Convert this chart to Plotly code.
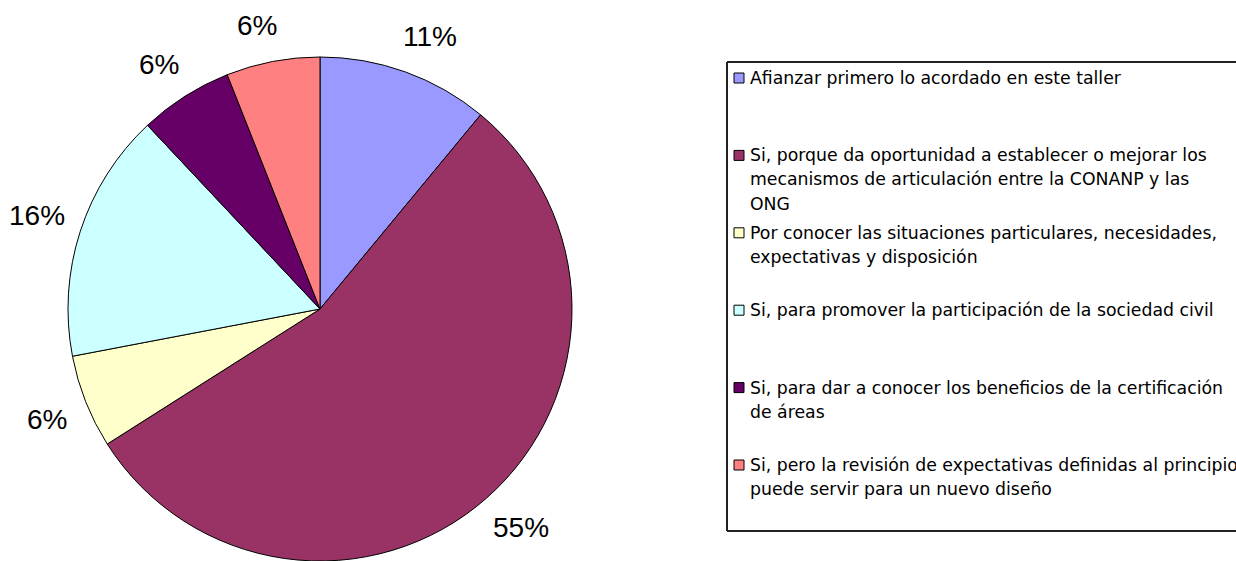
import math
import plotly.graph_objects as go

categories = [
    "Afianzar primero lo acordado en este taller",
    "Si, porque da oportunidad a establecer o mejorar los<br>mecanismos de articulación entre la CONANP y las<br>ONG",
    "Por conocer las situaciones particulares, necesidades,<br>expectativas y disposición",
    "Si, para promover la participación de la sociedad civil",
    "Si, para dar a conocer los beneficios de la certificación<br>de áreas",
    "Si, pero la revisión de expectativas definidas al principio<br>puede servir para un nuevo diseño",
]
values = [11, 55, 6, 16, 6, 6]
colors = ["#9999FF", "#993366", "#FFFFCC", "#CCFFFF", "#660066", "#FF8080"]

W, H = 1236, 561
CX, CY = 320, 309          # pie center in pixels (from top-left)
R = 252                    # pie radius in pixels
LABEL_SIZE = 28


def px_x(x):
    return x / W


def px_y(y):
    return 1 - y / H


fig = go.Figure()
fig.add_trace(go.Pie(
    labels=[c.replace("<br>", " ") for c in categories],
    values=values,
    sort=False,
    direction="clockwise",
    rotation=0,
    marker=dict(colors=colors, line=dict(color="black", width=1)),
    textinfo="none",
    hoverinfo="label+percent",
    domain=dict(x=[px_x(CX - R), px_x(CX + R)], y=[px_y(CY + R), px_y(CY - R)]),
    showlegend=False,
))

# percentage labels outside slices (placed like spreadsheet "outside end" labels)
total = sum(values)
cum = 0
annotations = []
for v in values:
    mid = (cum + v / 2) / total * 2 * math.pi
    cum += v
    s, c = math.sin(mid), -math.cos(mid)
    txt = f"{round(v / total * 100)}%"
    hw = (0.556 * (len(txt) - 1) + 0.889) * LABEL_SIZE / 2
    hh = LABEL_SIZE * 0.45
    # model A: label centre on the ray
    ax, ay = CX + 1.17 * R * s, CY + 1.17 * R * c
    # model B: nearest corner of the label box on the ray
    t = R + 18
    bx = CX + t * s + math.copysign(hw, s)
    by = CY + t * c + math.copysign(hh, c)
    annotations.append(dict(
        x=px_x((ax + bx) / 2), y=px_y((ay + by) / 2),
        xref="paper", yref="paper",
        text=txt, showarrow=False,
        font=dict(family="Liberation Sans, Arial", size=LABEL_SIZE, color="black"),
        xanchor="center", yanchor="middle",
    ))

# legend (boxed, entries at a fixed pitch, clipped at the right edge as in the source)
LEG_X, LEG_TOP, LEG_BOTTOM = 727, 62, 531
FIRST_ROW, PITCH = 78, 77.4
TEXT_SIZE = 17.3
border = dict(color="#222222", width=2)
shapes = [
    dict(type="line", xref="paper", yref="paper", x0=px_x(LEG_X), x1=1,
         y0=px_y(LEG_TOP), y1=px_y(LEG_TOP), line=border),
    dict(type="line", xref="paper", yref="paper", x0=px_x(LEG_X), x1=1,
         y0=px_y(LEG_BOTTOM), y1=px_y(LEG_BOTTOM), line=border),
    dict(type="line", xref="paper", yref="paper", x0=px_x(LEG_X), x1=px_x(LEG_X),
         y0=px_y(LEG_BOTTOM), y1=px_y(LEG_TOP), line=border),
]
for i, (cat, col) in enumerate(zip(categories, colors)):
    yc = FIRST_ROW + i * PITCH
    shapes.append(dict(type="rect", xref="paper", yref="paper",
                       x0=px_x(LEG_X + 7), x1=px_x(LEG_X + 17),
                       y0=px_y(yc + 5), y1=px_y(yc - 5),
                       line=dict(color="black", width=1), fillcolor=col))
    text = "<br>".join(f'<span style="font-size:{TEXT_SIZE}px">{ln}</span>'
                       for ln in cat.split("<br>"))
    annotations.append(dict(
        x=px_x(LEG_X + 21), y=px_y(yc - 12), xref="paper", yref="paper",
        text=text, showarrow=False, align="left",
        xanchor="left", yanchor="top",
        font=dict(family="DejaVu Sans, Liberation Sans, Arial", size=18.7, color="black"),
    ))

fig.update_layout(
    width=W, height=H,
    margin=dict(l=0, r=0, t=0, b=0),
    paper_bgcolor="white",
    plot_bgcolor="white",
    showlegend=False,
    annotations=annotations,
    shapes=shapes,
)

fig.write_html(
    "out.html",
    config={"displayModeBar": False},
    post_script="document.body.style.margin='0';document.body.style.overflow='hidden';",
)
